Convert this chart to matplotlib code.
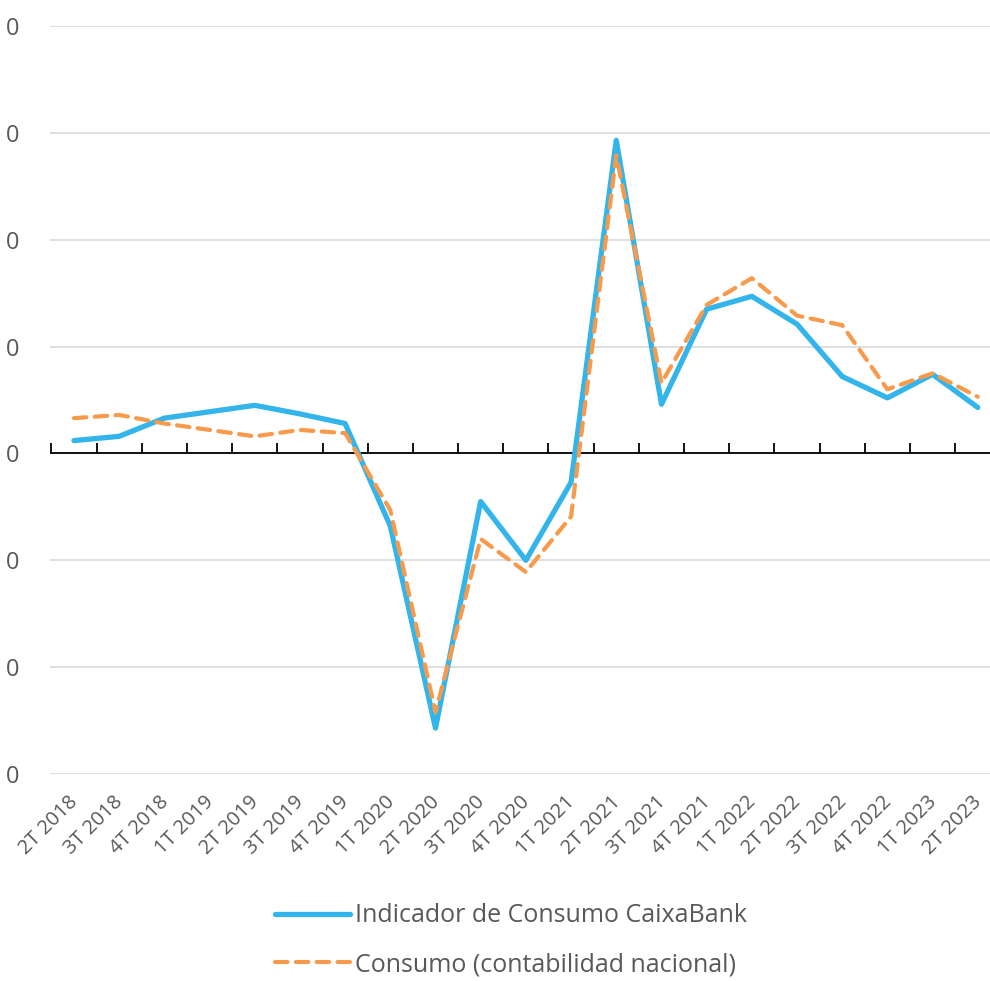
import matplotlib.pyplot as plt
from matplotlib.transforms import ScaledTranslation

plt.rcParams['font.family'] = ['Open Sans', 'DejaVu Sans']

quarters = ['2T 2018', '3T 2018', '4T 2018', '1T 2019', '2T 2019', '3T 2019', '4T 2019',
            '1T 2020', '2T 2020', '3T 2020', '4T 2020', '1T 2021', '2T 2021', '3T 2021',
            '4T 2021', '1T 2022', '2T 2022', '3T 2022', '4T 2022', '1T 2023', '2T 2023']

indicador = [1.2, 1.6, 3.3, 3.9, 4.5, 3.7, 2.8, -6.8, -25.7, -4.5, -10.0, -2.7,
             29.3, 4.6, 13.5, 14.7, 12.1, 7.2, 5.2, 7.4, 4.3]
consumo = [3.3, 3.6, 2.8, 2.2, 1.6, 2.2, 1.9, -5.3, -24.2, -8.0, -11.1, -5.9,
           27.9, 6.6, 13.9, 16.4, 12.9, 12.0, 6.0, 7.5, 5.3]

y_ticks = [-30, -20, -10, 0, 10, 20, 30, 40]
y_labels = ['0'] * len(y_ticks)

blue = '#33B5EB'
orange = '#F79A4B'
text_gray = '#595959'

fig = plt.figure(figsize=(9.9, 9.81), dpi=100)
ax = fig.add_axes([0.0505, 0.211, 0.9495, 0.7625])

x = list(range(len(quarters)))
ax.plot(x, indicador, color=blue, linewidth=3.8, solid_joinstyle='round',
        solid_capstyle='round', label='Indicador de Consumo CaixaBank', zorder=3)
ax.plot(x, consumo, color=orange, linewidth=3.0, linestyle=(0, (3, 2)),
        dash_capstyle='round', label='Consumo (contabilidad nacional)', zorder=4)

ax.set_xlim(-0.53, 20.27)
ax.set_ylim(-30, 40)
ax.set_yticks(y_ticks)
ax.set_yticklabels(y_labels, fontsize=17, color=text_gray)
ax.yaxis.grid(True, color='#D9D9D9', linewidth=1.2)
ax.set_axisbelow(True)
ax.tick_params(axis='y', length=0, pad=22)

ax.set_xticks(x)
ax.set_xticklabels(quarters, rotation=45, ha='right', rotation_mode='anchor',
                   fontsize=14.5, color=text_gray)
ax.tick_params(axis='x', length=0, pad=13)
shift = ScaledTranslation(-6 / 100, 0, fig.dpi_scale_trans)
for lbl in ax.get_xticklabels():
    lbl.set_transform(lbl.get_transform() + shift)

for s in ax.spines.values():
    s.set_visible(False)

# category axis drawn at zero with upward tick marks between quarters
ax.axhline(0, color='black', linewidth=1.3, zorder=2)
bounds = [i - 0.5 for i in range(len(quarters) + 1)]
ax.plot(bounds, [0] * len(bounds), linestyle='none', marker=2, markersize=7,
        markeredgewidth=1.3, color='black', zorder=2)

leg = ax.legend(loc='upper center', bbox_to_anchor=(0.49, -0.143), ncol=1, frameon=False,
                fontsize=18, handlelength=3.0, handletextpad=0.2, labelspacing=0.95)
for t in leg.get_texts():
    t.set_color(text_gray)

fig.savefig('out.png', dpi=100)
